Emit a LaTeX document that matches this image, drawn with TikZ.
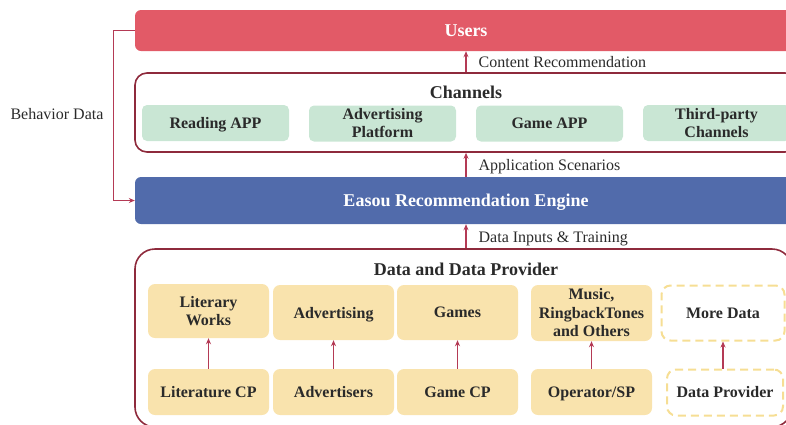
\documentclass[tikz,border=0pt]{standalone}
\usepackage{fontspec}
\setmainfont{Liberation Serif}
\usetikzlibrary{arrows.meta}
\definecolor{usersred}{HTML}{E25A67}
\definecolor{engblue}{HTML}{516BAB}
\definecolor{chgreen}{HTML}{C9E6D4}
\definecolor{datayel}{HTML}{F9E3AD}
\definecolor{dashyel}{HTML}{F6DE94}
\definecolor{frame}{HTML}{8E2A3C}
\definecolor{arr}{HTML}{B43A55}
\definecolor{txt}{HTML}{2A2A2A}
\tikzset{
  bar/.style={draw=none, rounded corners=6pt, text=white, font=\fontsize{18}{20}\selectfont\bfseries, inner sep=0pt, text depth=0pt},
  groupbox/.style={draw=frame, line width=1.6pt, inner sep=0pt},
  chbox/.style={fill=chgreen, rounded corners=5pt, minimum width=147pt, minimum height=36pt, inner sep=0pt, align=center, text=txt, font=\fontsize{16}{18}\selectfont\bfseries},
  ybox/.style={fill=datayel, rounded corners=7pt, minimum width=121pt, inner sep=0pt, align=center, text=txt, font=\fontsize{16}{18.5}\selectfont\bfseries},
  dbox/.style={draw=dashyel, line width=2pt, dash pattern=on 8pt off 5pt, rounded corners=9pt, inner sep=0pt, align=center, text=txt, font=\fontsize{16}{18.5}\selectfont\bfseries},
  nodepth/.style={text depth=0pt},
  title/.style={text=txt, font=\fontsize{18}{20}\selectfont\bfseries, inner sep=0pt, text depth=0pt},
  lbl/.style={text=txt, font=\fontsize{16}{18}\selectfont, inner sep=0pt, text depth=0pt},
  arrow/.style={draw=arr, line width=1.3pt, -{Stealth[length=6pt,width=5pt]}},
}
\begin{document}
\begin{tikzpicture}[x=1pt,y=-1pt]
\useasboundingbox (0,0) rectangle (786,424);
\clip (0,0) rectangle (786,424);
% Users
\node[bar, fill=usersred, minimum width=662pt, minimum height=41pt] (users) at (466,30.5) {Users};
% Channels
\node[groupbox, rounded corners=12pt, minimum width=662pt, minimum height=79pt] (channels) at (466,112.5) {};
\node[title] (chtitle) at (466,92) {Channels};
\node[chbox, nodepth] (reading) at (215.5,123) {Reading APP};
\node[chbox] (advplat) at (382.5,123.5) {Advertising\\Platform};
\node[chbox, nodepth] (gameapp) at (549.5,123.5) {Game APP};
\node[chbox] (third) at (716.5,123) {Third-party\\Channels};
% Engine
\node[bar, fill=engblue, minimum width=662pt, minimum height=47pt] (engine) at (466,200.5) {Easou Recommendation Engine};
% Data box
\node[groupbox, rounded corners=20pt, minimum width=657pt, minimum height=178pt] (data) at (463.5,338) {};
\node[title] (dtitle) at (466,269) {Data and Data Provider};
% row 1
\node[ybox, minimum height=54pt] (litw) at (208.5,311) {Literary\\Works};
\node[ybox, nodepth, minimum height=55pt] (adv) at (333.5,312.5) {Advertising};
\node[ybox, minimum height=55pt] (games) at (457.5,312.5) {Games};
\node[ybox, minimum height=56pt] (music) at (591.5,313) {Music,\\RingbackTones\\and Others};
\node[dbox, minimum width=123pt, minimum height=55pt] (more) at (723,313) {More Data};
% row 2
\node[ybox, minimum height=46pt] (litcp) at (208.5,392) {Literature CP};
\node[ybox, minimum height=46pt] (advs) at (333.5,392) {Advertisers};
\node[ybox, minimum height=46pt] (gamecp) at (457.5,392) {Game CP};
\node[ybox, nodepth, minimum height=46pt] (oper) at (591.5,392) {Operator/SP};
\node[dbox, minimum width=116pt, minimum height=46pt] (dprov) at (725,392.5) {Data Provider};
% arrows between rows
\draw[arrow] (litcp.north) -- (litw.south);
\draw[arrow] (advs.north) -- (adv.south);
\draw[arrow] (gamecp.north) -- (games.south);
\draw[arrow] (oper.north) -- (music.south);
\draw[arrow] (dprov.north -| more.south) -- (more.south);
% main arrows
\draw[arrow] (channels.north) -- (users.south) node[lbl, midway, anchor=west, xshift=12pt] {Content Recommendation};
\draw[arrow] (engine.north) -- (channels.south) node[lbl, midway, anchor=west, xshift=12pt] {Application Scenarios};
\draw[arrow] (data.north -| engine.south) -- (engine.south) node[lbl, midway, anchor=west, xshift=12pt, yshift=-1pt] {Data Inputs \& Training};
% behavior data
\draw[arrow] (users.west) -- ++(-21,0) |- (engine.west);
\node[lbl] (beh) at (57,114) {Behavior Data};
\end{tikzpicture}
\end{document}
